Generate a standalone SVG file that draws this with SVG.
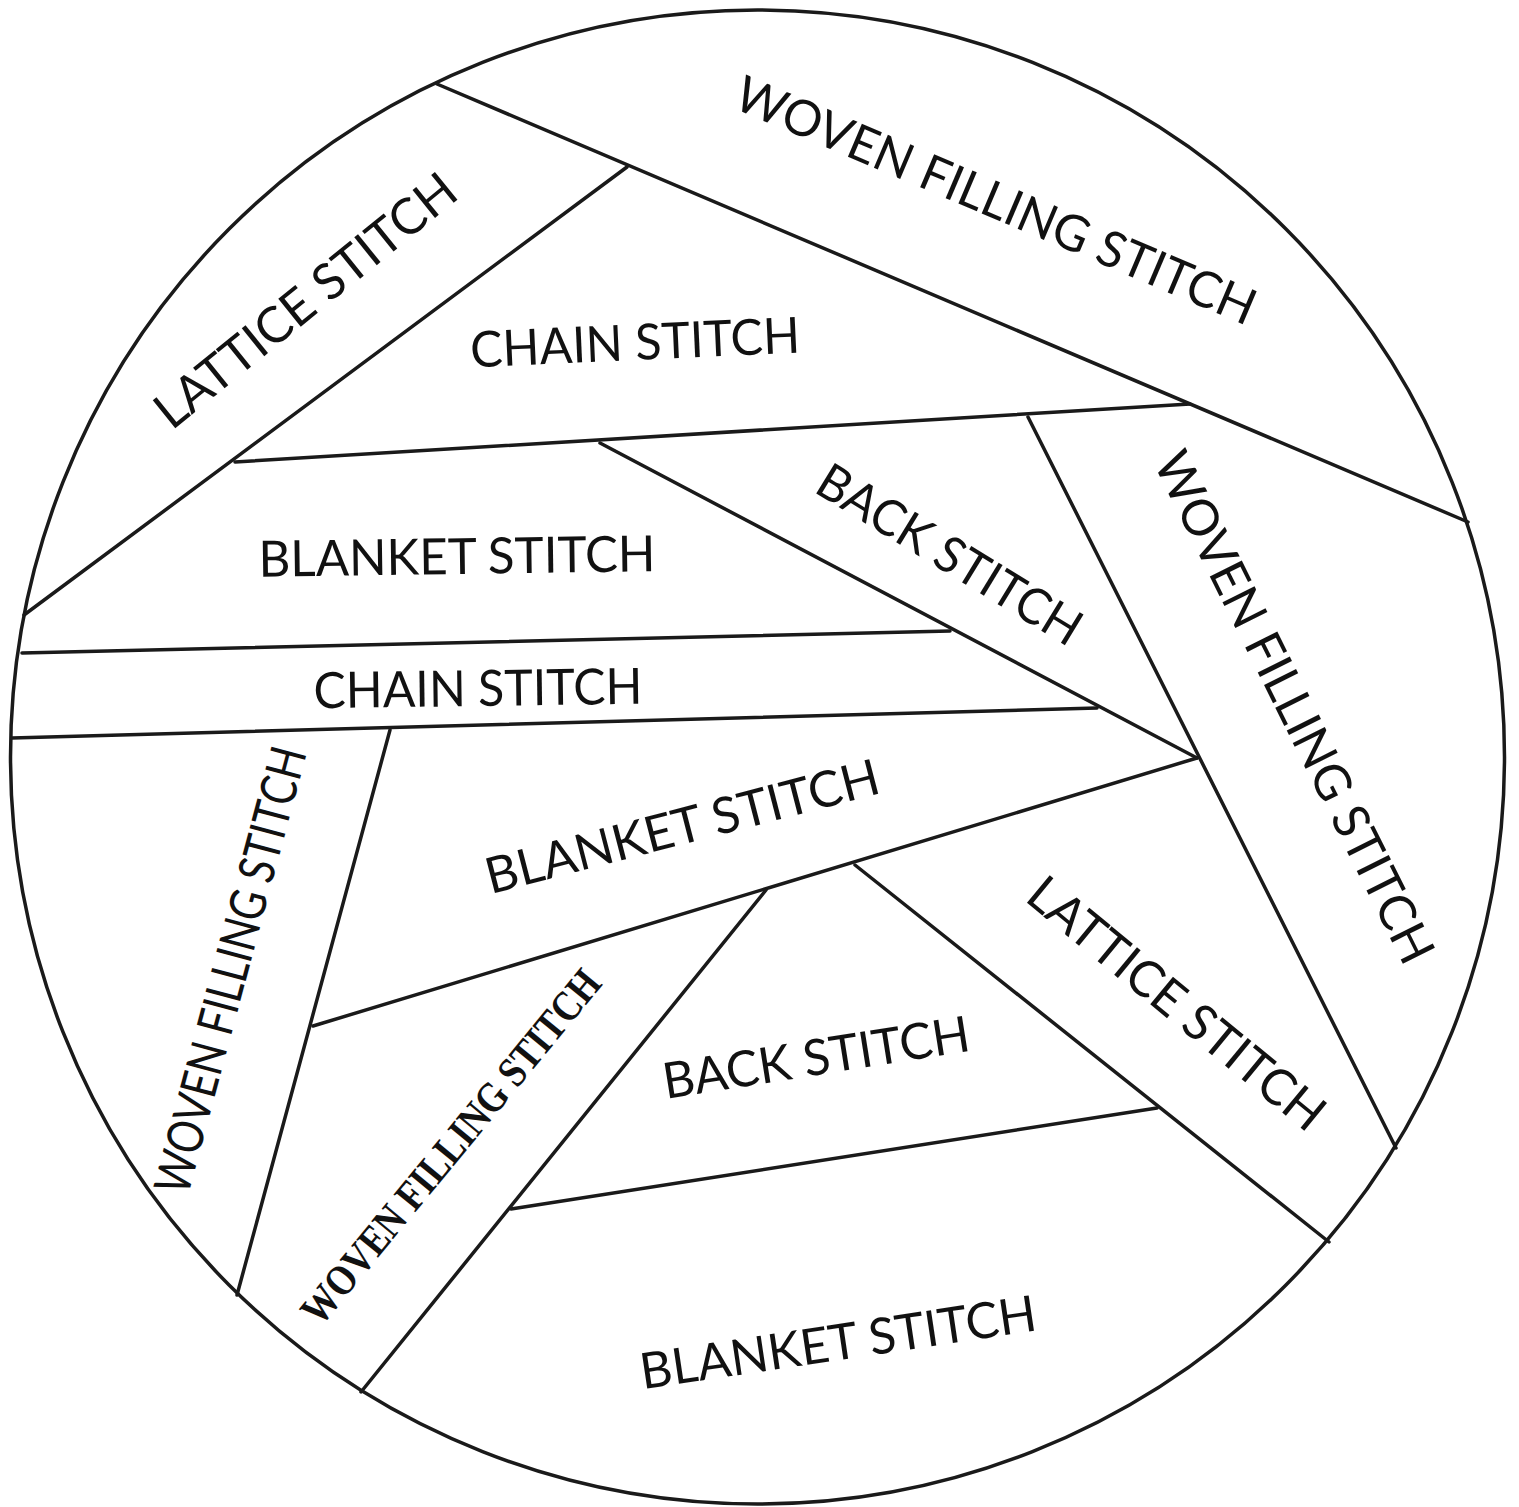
<svg xmlns="http://www.w3.org/2000/svg" width="1519" height="1507" viewBox="0 0 1519 1507">
<style>
.ln{stroke:#1a1a1a;stroke-width:3.5;fill:none;stroke-linecap:round;stroke-linejoin:round}
.t{font-family:"Lato","DejaVu Sans",sans-serif;font-weight:400;font-size:50px;fill:#111;text-anchor:middle}
.s{font-family:"Liberation Serif","DejaVu Serif",serif;font-weight:bold;font-size:43px;fill:#111;text-anchor:middle}
</style>
<rect width="1519" height="1507" fill="#fff"/>
<circle id="hoop" cx="757.5" cy="757" r="747" class="ln" stroke-width="3"/>
<g id="seams" class="ln">
<line x1="437" y1="84" x2="1468" y2="522"/>
<line x1="627" y1="167" x2="24" y2="615"/>
<line x1="235" y1="462" x2="1190" y2="404"/>
<line x1="1028" y1="417" x2="1396" y2="1148"/>
<line x1="600" y1="443" x2="1197" y2="758"/>
<line x1="22" y1="653" x2="950" y2="631"/>
<line x1="12" y1="738" x2="1097" y2="708"/>
<line x1="390" y1="730" x2="237" y2="1295"/>
<line x1="313" y1="1026" x2="1197" y2="758"/>
<line x1="766" y1="890" x2="361" y2="1392"/>
<line x1="511" y1="1209" x2="1157" y2="1108"/>
<line x1="855" y1="865" x2="1329" y2="1242"/>
</g>
<g id="label-woven-top" transform="translate(996,200) rotate(23)"><text class="t" x="0" y="18" textLength="560" lengthAdjust="spacingAndGlyphs">WOVEN FILLING STITCH</text></g>
<g id="label-lattice-top" transform="translate(305,300) rotate(-39)"><text class="t" x="0" y="18" textLength="372" lengthAdjust="spacingAndGlyphs">LATTICE STITCH</text></g>
<g id="label-chain-top" transform="translate(635,342) rotate(-2.6)"><text class="t" x="0" y="18" textLength="330" lengthAdjust="spacingAndGlyphs">CHAIN STITCH</text></g>
<g id="label-back-top" transform="translate(950,554) rotate(31.4)"><text class="t" x="0" y="18" textLength="300" lengthAdjust="spacingAndGlyphs">BACK STITCH</text></g>
<g id="label-woven-right" transform="translate(1295,707) rotate(63.5)"><text class="t" x="0" y="18" textLength="565" lengthAdjust="spacingAndGlyphs">WOVEN FILLING STITCH</text></g>
<g id="label-blanket-1" transform="translate(457,556) rotate(-0.8)"><text class="t" x="0" y="18" textLength="397" lengthAdjust="spacingAndGlyphs">BLANKET STITCH</text></g>
<g id="label-chain-2" transform="translate(478,688) rotate(-0.8)"><text class="t" x="0" y="18" textLength="329" lengthAdjust="spacingAndGlyphs">CHAIN STITCH</text></g>
<g id="label-woven-left" transform="translate(230,970) rotate(-75)"><text class="t" x="0" y="18" textLength="460" lengthAdjust="spacingAndGlyphs">WOVEN FILLING STITCH</text></g>
<g id="label-blanket-2" transform="translate(682,826) rotate(-14.5)"><text class="t" x="0" y="18" textLength="405" lengthAdjust="spacingAndGlyphs">BLANKET STITCH</text></g>
<g id="label-woven-serif" transform="translate(451,1147) rotate(-50.5)"><text class="s" x="0" y="14" textLength="445" lengthAdjust="spacingAndGlyphs">WOVEN FILLING STITCH</text></g>
<g id="label-back-bottom" transform="translate(816,1057) rotate(-9)"><text class="t" x="0" y="18" textLength="310" lengthAdjust="spacingAndGlyphs">BACK STITCH</text></g>
<g id="label-lattice-bottom" transform="translate(1177,1003) rotate(39.4)"><text class="t" x="0" y="18" textLength="368" lengthAdjust="spacingAndGlyphs">LATTICE STITCH</text></g>
<g id="label-blanket-bottom" transform="translate(838,1342) rotate(-8.5)"><text class="t" x="0" y="18" textLength="400" lengthAdjust="spacingAndGlyphs">BLANKET STITCH</text></g>
</svg>
